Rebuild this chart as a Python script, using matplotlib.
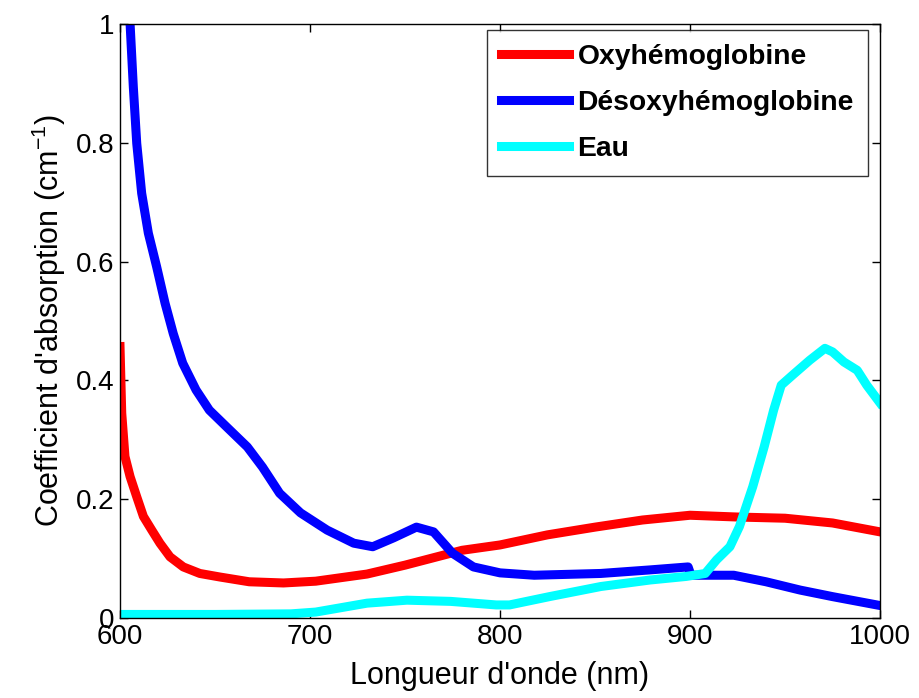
import matplotlib
matplotlib.use('Agg')
import matplotlib.pyplot as plt

plt.rcParams['font.family'] = ['Liberation Sans', 'DejaVu Sans']
plt.rcParams['mathtext.default'] = 'regular'

# Oxyhémoglobine
oxy_x = [600, 600.9, 602.6, 605.3, 608.8, 612.3, 616.7, 621, 626.3, 633.3, 642, 652.6,
         668, 686, 703, 730, 750, 780, 800, 825, 850, 875, 900, 925, 950, 975, 1000]
oxy_y = [0.457, 0.345, 0.272, 0.238, 0.204, 0.171, 0.148, 0.126, 0.103, 0.086, 0.075,
         0.069, 0.061, 0.059, 0.062, 0.074, 0.089, 0.114, 0.123, 0.14, 0.153, 0.165, 0.173,
         0.17, 0.168, 0.16, 0.145]

# Désoxyhémoglobine
deoxy_x = [600, 603, 605.3, 607, 608.8, 611.4, 614.9, 619.3, 623.7, 628, 633, 640, 647,
           656, 667, 675, 684, 695, 709, 723, 733, 744, 756, 765, 775, 786, 800, 818, 853,
           879, 899, 900.5, 923, 940, 958, 975, 1000]
deoxy_y = [1.25, 1.09, 1.0, 0.894, 0.799, 0.715, 0.648, 0.591, 0.53, 0.479, 0.429, 0.384,
           0.35, 0.322, 0.288, 0.254, 0.21, 0.177, 0.148, 0.126, 0.12, 0.135, 0.153, 0.145,
           0.109, 0.086, 0.076, 0.072, 0.075, 0.081, 0.086, 0.072, 0.072, 0.061, 0.047,
           0.036, 0.021]

# Eau
eau_x = [600, 650, 690, 703, 730, 751, 774, 798, 805, 826, 853, 879, 898, 908, 914, 921,
         926, 933, 939, 944, 948, 954, 963, 971, 975, 981, 988, 993, 1000]
eau_y = [0.006, 0.006, 0.007, 0.01, 0.025, 0.03, 0.028, 0.022, 0.022, 0.036, 0.053, 0.064,
         0.07, 0.075, 0.098, 0.12, 0.154, 0.221, 0.288, 0.35, 0.392, 0.409, 0.434, 0.454,
         0.448, 0.431, 0.417, 0.392, 0.362]

fig = plt.figure(figsize=(9.19, 6.98), dpi=100)
ax = fig.add_axes([0.1306, 0.1146, 0.827, 0.851])

ax.plot(oxy_x, oxy_y, color='#ff0000', lw=6.5, label='Oxyhémoglobine')
ax.plot(deoxy_x, deoxy_y, color='#0000ff', lw=6.5, label='Désoxyhémoglobine')
ax.plot(eau_x, eau_y, color='#00ffff', lw=6.5, label='Eau')

ax.set_xlim(600, 1000)
ax.set_ylim(0, 1)
ax.set_xticks([600, 700, 800, 900, 1000])
ax.set_yticks([0, 0.2, 0.4, 0.6, 0.8, 1])
ax.set_yticklabels(['0', '0.2', '0.4', '0.6', '0.8', '1'])
ax.tick_params(direction='in', length=6, width=1, labelsize=20, pad=4,
               top=True, right=True)
for s in ax.spines.values():
    s.set_linewidth(1)

ax.set_xlabel("Longueur d'onde (nm)", fontsize=22, labelpad=8)
ax.set_ylabel("Coefficient d'absorption (cm$^{-1}$)", fontsize=22, labelpad=6)

leg = ax.legend(loc='upper right', bbox_to_anchor=(0.984, 0.99),
                prop={'size': 20.3, 'weight': 'bold'},
                frameon=True, fancybox=False, edgecolor='black', handlelength=2.4,
                handletextpad=0.3, borderaxespad=0, labelspacing=0.7,
                borderpad=0.5)
leg.get_frame().set_linewidth(1)

fig.savefig('out.png', dpi=100)
